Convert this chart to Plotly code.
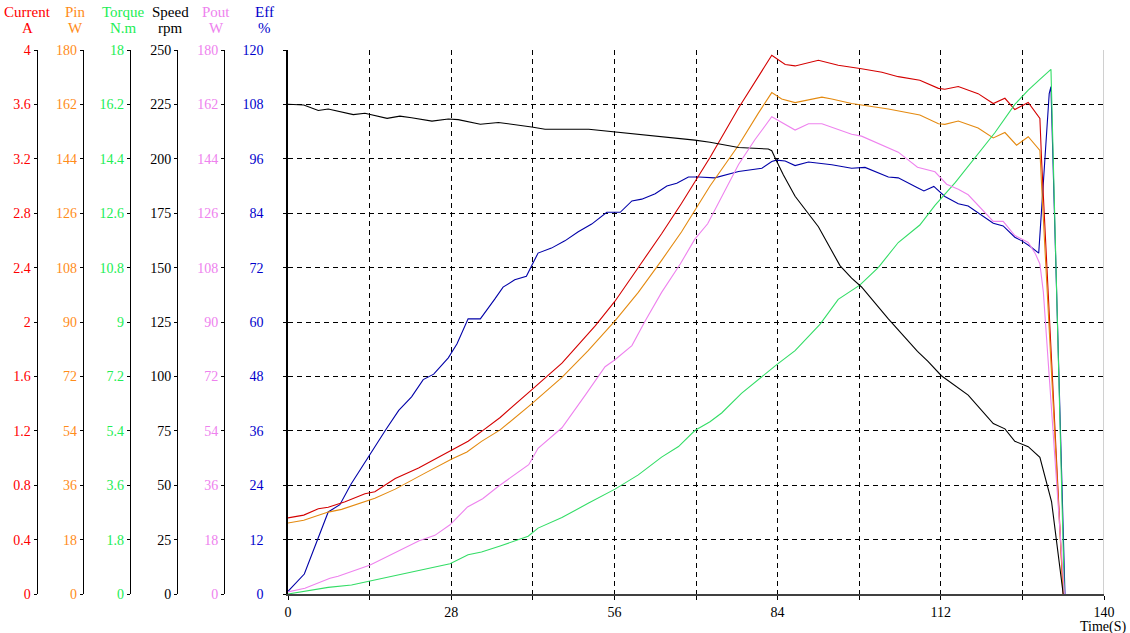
import plotly.graph_objects as go

# ---------------- data ----------------
t_current = [0, 2.7, 5.2, 6.9, 9.8, 13.2, 14.9, 18.4, 22.4, 25.2, 28.1, 30.9, 33.8, 36.4, 41.8, 47.0,
             52.7, 56.1, 60.1, 64.1, 67.5, 72.4, 77.3, 83.0, 85.3, 87.0, 91.0, 94.4, 98.4, 101.9, 104.7,
             108.4, 111.6, 112.7, 115.0, 118.4, 121.0, 123.0, 124.7, 127.0, 129.0, 129.3, 133.0]
current = [0.56, 0.58, 0.627, 0.638, 0.679, 0.737, 0.752, 0.849, 0.927, 0.992, 1.063, 1.123, 1.214, 1.298,
           1.501, 1.697, 1.971, 2.153, 2.401, 2.649, 2.871, 3.21, 3.574, 3.961, 3.893, 3.883, 3.924, 3.888,
           3.862, 3.836, 3.804, 3.778, 3.718, 3.711, 3.731, 3.679, 3.606, 3.645, 3.562, 3.614, 3.497, 3.184, 0.0]

t_pin = [0, 2.7, 6.9, 9.2, 14.9, 18.4, 23.5, 28.1, 30.7, 33.2, 36.4, 41.8, 47.0, 51.5, 56.1, 60.1, 64.1,
         67.5, 72.4, 75.0, 77.3, 80.7, 83.0, 84.7, 87.0, 91.6, 93.3, 96.7, 98.4, 103.0, 108.4, 111.6, 112.7,
         115.0, 118.4, 121.0, 123.0, 125.0, 127.0, 129.0, 129.3, 133.0]
pin = [23.5, 24.4, 27.1, 28.0, 31.7, 34.7, 40.0, 44.7, 47.0, 50.5, 54.3, 62.9, 71.7, 80.5, 90.4, 99.8, 110.4,
       119.8, 135.0, 142.1, 148.5, 159.1, 165.9, 163.8, 162.6, 164.4, 163.8, 162.3, 161.8, 160.5, 158.5,
       155.6, 155.4, 156.5, 154.2, 150.9, 152.7, 148.5, 151.3, 146.8, 135.0, 0.0]

t_torque = [0, 2.7, 6.9, 10.9, 13.8, 18.4, 22.4, 25.2, 27.8, 30.9, 33.2, 36.4, 41.2, 42.9, 47.0, 51.5, 56.1,
            60.1, 64.1, 67.0, 69.8, 72.4, 74.4, 77.8, 80.7, 83.8, 87.0, 91.3, 94.4, 98.1, 101.3, 104.7,
            108.4, 111.0, 114.5, 117.9, 121.3, 124.7, 127.0, 129.0, 130.9, 133.2]
torque = [0, 0.09, 0.22, 0.30, 0.42, 0.63, 0.79, 0.89, 1.00, 1.30, 1.39, 1.59, 1.91, 2.18, 2.53, 3.00, 3.47,
          3.94, 4.53, 4.88, 5.41, 5.70, 5.99, 6.64, 7.11, 7.58, 8.05, 8.93, 9.75, 10.22, 10.81, 11.63, 12.21,
          12.86, 13.62, 14.44, 15.27, 16.20, 16.67, 17.03, 17.36, 0.0]

t_speed = [0, 2.7, 5.2, 6.9, 11.2, 13.2, 17.0, 19.2, 21.2, 24.7, 27.5, 29.2, 33.0, 36.1, 41.8, 44.1, 51.6,
           56.1, 64.1, 69.8, 72.4, 77.3, 82.4, 83.0, 83.8, 85.0, 87.0, 91.0, 94.7, 96.7, 98.4, 103.0, 108.0,
           109.8, 112.1, 116.7, 121.0, 123.0, 124.7, 127.0, 129.0, 130.2, 131.0, 133.0]
speed = [225.1, 224.7, 222.2, 222.9, 220.3, 220.9, 218.6, 219.6, 218.9, 217.3, 218.3, 218.0, 215.9, 216.7,
         214.6, 213.6, 213.6, 212.4, 210.2, 208.6, 207.6, 205.2, 204.5, 203.7, 199.1, 192.6, 182.8, 168.8,
         150.9, 145.2, 141.1, 126.4, 111.5, 106.9, 100.3, 91.4, 78.3, 75.9, 70.2, 67.7, 62.8, 50.6, 42.5, 0.0]

t_pout = [0, 2.9, 7.2, 8.6, 14.1, 18.4, 22.5, 25.2, 27.8, 30.8, 33.4, 36.0, 41.3, 42.9, 47.0, 51.0, 54.4,
          56.1, 59.0, 61.3, 64.1, 67.3, 69.8, 72.0, 74.4, 77.3, 80.1, 83.0, 87.0, 89.3, 91.6, 94.4, 96.7,
          98.4, 101.3, 104.7, 108.0, 111.0, 113.0, 115.0, 116.7, 121.0, 122.7, 124.7, 127.0, 128.2, 129.0,
          129.6, 133.2]
pout = [0.7, 1.9, 5.2, 5.9, 9.6, 13.6, 17.6, 19.4, 22.9, 28.8, 31.5, 35.5, 42.8, 48.2, 55.0, 65.8, 75.2,
        77.5, 82.2, 90.4, 99.8, 109.2, 117.4, 122.5, 131.5, 142.1, 150.3, 157.9, 153.5, 155.6, 155.6, 153.8,
        152.1, 151.5, 149.1, 146.2, 141.2, 139.7, 135.6, 133.9, 132.1, 123.3, 123.3, 118.6, 116.3, 112.7,
        109.2, 99.8, 0.0]

t_eff = [0, 2.8, 6.9, 8.9, 10.8, 14.1, 16.8, 19.0, 21.2, 23.2, 25.0, 27.5, 29.0, 30.9, 33.0, 35.5, 36.9,
         38.9, 40.9, 41.8, 42.9, 45.2, 47.5, 49.8, 52.1, 54.7, 57.0, 59.0, 60.7, 63.0, 65.0, 66.7, 68.7, 70.5,
         73.2, 77.3, 81.3, 83.0, 83.8, 85.3, 87.0, 89.3, 93.3, 96.7, 99.0, 103.0, 104.7, 108.0, 109.1, 110.8,
         112.7, 115.0, 116.7, 121.0, 122.7, 124.7, 125.9, 127.3, 128.8, 130.6, 130.9, 133.3]
eff = [0.6, 4.4, 18.1, 19.7, 24.2, 31.0, 36.3, 40.5, 43.5, 47.3, 48.5, 52.1, 55.2, 60.7, 60.7, 65.1, 67.7,
       69.3, 70.1, 72.4, 75.2, 76.3, 77.9, 79.9, 81.6, 84.2, 84.2, 86.7, 87.1, 88.3, 90.0, 90.6, 92.0, 92.0,
       91.8, 93.2, 93.9, 95.4, 95.7, 95.5, 94.5, 95.3, 94.7, 93.9, 94.1, 92.0, 91.8, 89.6, 88.9, 89.9, 87.7,
       86.1, 85.6, 81.8, 81.2, 78.7, 77.9, 76.7, 75.2, 110.4, 111.9, 0.0]

# tick labels
x_ticks = [0, 14, 28, 42, 56, 70, 84, 98, 112, 126, 140]
x_ticktext = ["0", "", "28", "", "56", "", "84", "", "112", "", "140"]
current_ticks = ["0", "0.4", "0.8", "1.2", "1.6", "2", "2.4", "2.8", "3.2", "3.6", "4"]
pin_ticks = ["0", "18", "36", "54", "72", "90", "108", "126", "144", "162", "180"]
torque_ticks = ["0", "1.8", "3.6", "5.4", "7.2", "9", "10.8", "12.6", "14.4", "16.2", "18"]
speed_ticks = ["0", "25", "50", "75", "100", "125", "150", "175", "200", "225", "250"]
pout_ticks = ["0", "18", "36", "54", "72", "90", "108", "126", "144", "162", "180"]
eff_ticks = ["0", "12", "24", "36", "48", "60", "72", "84", "96", "108", "120"]

headers = ["Current", "Pin", "Torque", "Speed", "Pout", "Eff"]
units = ["A", "W", "N.m", "rpm", "W", "%"]

# ---------------- styling ----------------
W, H = 1130, 633
FONT = "Liberation Serif, Times New Roman, serif"
x0_px, x1_px = 288, 1104
label_colors = ["#FF0000", "#FF8C1A", "#22EE55", "#000000", "#EE82EE", "#0000CC"]
line_colors = {"current": "#D40000", "pin": "#E48A10", "torque": "#33DD66",
               "speed": "#000000", "pout": "#EE82EE", "eff": "#0000A8"}
axis_px = [36.5, 82.7, 129.8, 177, 224]
header_px = [27.5, 75, 123.5, 170, 216.5, 264]

fig = go.Figure()


def add(tx, ty, name, axis):
    fig.add_trace(go.Scatter(x=tx, y=ty, mode="lines", name=name, yaxis=axis,
                             line=dict(color=line_colors[name], width=1.1), showlegend=False,
                             hoverinfo="skip"))


add(t_pout, pout, "pout", "y6")
add(t_pin, pin, "pin", "y3")
add(t_current, current, "current", "y2")
add(t_speed, speed, "speed", "y5")
add(t_torque, torque, "torque", "y4")
add(t_eff, eff, "eff", "y")

dash = "5px,4px"


def side_axis(pos, maxv, texts, color):
    return dict(overlaying="y", anchor="free", position=pos / W, side="left",
                range=[0, maxv], tickmode="array", automargin=False,
                tickvals=[maxv * i / 10 for i in range(11)], ticktext=texts,
                showgrid=False, zeroline=False, showline=True, linecolor="black", linewidth=1,
                ticks="outside", ticklen=3, tickcolor="black",
                tickfont=dict(family=FONT, size=14, color=color), fixedrange=True)


fig.update_layout(
    width=W, height=H, autosize=False,
    margin=dict(l=0, r=0, t=50, b=39, pad=0, autoexpand=False),
    paper_bgcolor="white", plot_bgcolor="white",
    xaxis=dict(domain=[x0_px / W, x1_px / W], range=[0, 140], tickmode="array", automargin=False,
               tickvals=x_ticks, ticktext=x_ticktext, showgrid=True, gridcolor="black",
               griddash=dash, gridwidth=1, zeroline=False, showline=True, linecolor="#404040",
               linewidth=2, ticks="outside", ticklen=4, tickcolor="black",
               tickfont=dict(family=FONT, size=14, color="black"), fixedrange=True),
    yaxis=dict(range=[0, 120], tickmode="array", tickvals=[12 * i for i in range(11)], automargin=False,
               ticktext=eff_ticks, showgrid=True, gridcolor="black", griddash=dash, gridwidth=1,
               zeroline=False, showline=True, linecolor="black", linewidth=1.5, ticks="outside",
               ticklen=3, tickcolor="black", ticklabelstandoff=17,
               tickfont=dict(family=FONT, size=14, color=label_colors[5]), fixedrange=True),
    yaxis2=side_axis(axis_px[0], 4, current_ticks, label_colors[0]),
    yaxis3=side_axis(axis_px[1], 180, pin_ticks, label_colors[1]),
    yaxis4=side_axis(axis_px[2], 18, torque_ticks, label_colors[2]),
    yaxis5=side_axis(axis_px[3], 250, speed_ticks, label_colors[3]),
    yaxis6=side_axis(axis_px[4], 180, pout_ticks, label_colors[4]),
)

# grey right border under the dashed grid line
fig.add_shape(type="line", xref="x", yref="paper", x0=140, x1=140, y0=0, y1=1,
              line=dict(color="#A0A0A0", width=1), layer="below")

plot_h = H - 50 - 39
for i, (hd, un) in enumerate(zip(headers, units)):
    fig.add_annotation(x=header_px[i] / W, y=(594 - 12) / plot_h, xref="paper", yref="paper",
                       text=hd, showarrow=False, xanchor="center", yanchor="middle",
                       font=dict(family=FONT, size=15, color=label_colors[i]))
    fig.add_annotation(x=header_px[i] / W, y=(594 - 28) / plot_h, xref="paper", yref="paper",
                       text=un, showarrow=False, xanchor="center", yanchor="middle",
                       font=dict(family=FONT, size=15, color=label_colors[i]))

fig.add_annotation(x=1129 / W, y=(594 - 627) / plot_h, xref="paper", yref="paper", text="Time(S)",
                   showarrow=False, xanchor="right", yanchor="middle",
                   font=dict(family=FONT, size=14, color="black"))

fig.write_html("out.html")
